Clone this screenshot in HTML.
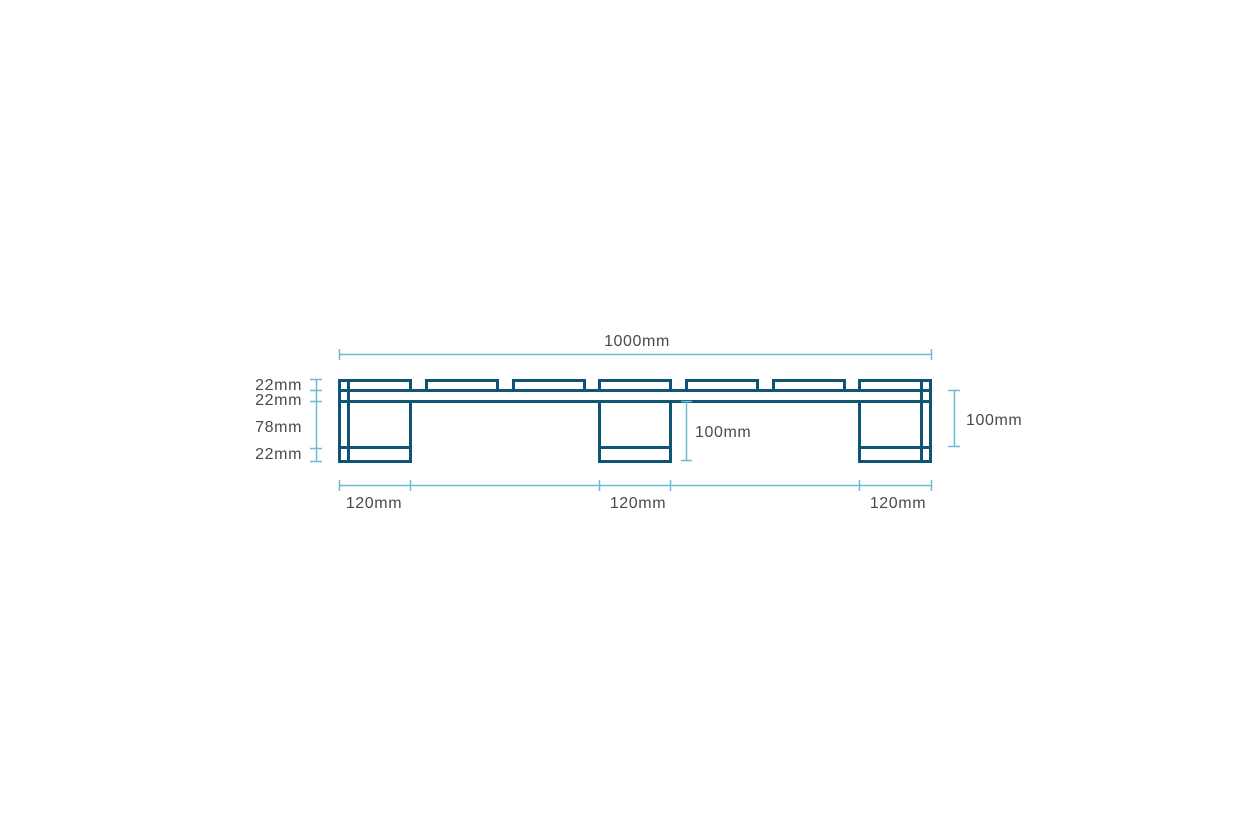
<!DOCTYPE html>
<html><head><style>html,body{margin:0;padding:0;background:#fff;}svg{display:block}</style></head>
<body>
<svg width="1258" height="838" viewBox="0 0 1258 838" xmlns="http://www.w3.org/2000/svg">
<g fill="none" stroke="#0f5573" stroke-width="3">
<rect x="339.5" y="380.5" width="71" height="10"/>
<rect x="426.5" y="380.5" width="71" height="10"/>
<rect x="513.5" y="380.5" width="71" height="10"/>
<rect x="599.5" y="380.5" width="71" height="10"/>
<rect x="686.5" y="380.5" width="71" height="10"/>
<rect x="773.5" y="380.5" width="71" height="10"/>
<rect x="859.5" y="380.5" width="71" height="10"/>
<rect x="339.5" y="390.5" width="591" height="11"/>
<rect x="339.5" y="401.5" width="71" height="60"/>
<rect x="599.5" y="401.5" width="71" height="60"/>
<rect x="859.5" y="401.5" width="71" height="60"/>
<line x1="339.5" y1="447.5" x2="410.5" y2="447.5"/>
<line x1="599.5" y1="447.5" x2="670.5" y2="447.5"/>
<line x1="859.5" y1="447.5" x2="930.5" y2="447.5"/>
<line x1="348.5" y1="380.5" x2="348.5" y2="461.5"/>
<line x1="921.5" y1="380.5" x2="921.5" y2="461.5"/>
</g>
<g stroke="#6bbcd2" stroke-width="1.5" fill="none">
<line x1="339.5" y1="354.5" x2="931.5" y2="354.5"/>
<line x1="339.5" y1="349" x2="339.5" y2="360"/>
<line x1="931.5" y1="349" x2="931.5" y2="360"/>
<line x1="316.5" y1="379.5" x2="316.5" y2="461.5"/>
<line x1="310" y1="379.5" x2="322" y2="379.5"/>
<line x1="310" y1="390.5" x2="322" y2="390.5"/>
<line x1="310" y1="401.5" x2="322" y2="401.5"/>
<line x1="310" y1="448.5" x2="322" y2="448.5"/>
<line x1="310" y1="461.5" x2="322" y2="461.5"/>
<line x1="339.5" y1="485.5" x2="931.5" y2="485.5"/>
<line x1="339.5" y1="480" x2="339.5" y2="491"/>
<line x1="410.5" y1="480" x2="410.5" y2="491"/>
<line x1="599.5" y1="480" x2="599.5" y2="491"/>
<line x1="670.5" y1="480" x2="670.5" y2="491"/>
<line x1="859.5" y1="480" x2="859.5" y2="491"/>
<line x1="931.5" y1="480" x2="931.5" y2="491"/>
<line x1="686.5" y1="401.5" x2="686.5" y2="460.5"/>
<line x1="681" y1="401.5" x2="692" y2="401.5"/>
<line x1="681" y1="460.5" x2="692" y2="460.5"/>
<line x1="954.5" y1="390.5" x2="954.5" y2="446.5"/>
<line x1="948" y1="390.5" x2="960" y2="390.5"/>
<line x1="948" y1="446.5" x2="960" y2="446.5"/>
</g>
<g font-family="Liberation Sans, sans-serif" font-size="16" letter-spacing="0.6" fill="#4a4a4a">
<text x="637" y="346" text-anchor="middle">1000mm</text>
<text x="302" y="390" text-anchor="end">22mm</text>
<text x="302" y="405" text-anchor="end">22mm</text>
<text x="302" y="432" text-anchor="end">78mm</text>
<text x="302" y="459" text-anchor="end">22mm</text>
<text x="374" y="508" text-anchor="middle">120mm</text>
<text x="638" y="508" text-anchor="middle">120mm</text>
<text x="898" y="508" text-anchor="middle">120mm</text>
<text x="695" y="437">100mm</text>
<text x="966" y="425">100mm</text>
</g>
</svg>
</body></html>
